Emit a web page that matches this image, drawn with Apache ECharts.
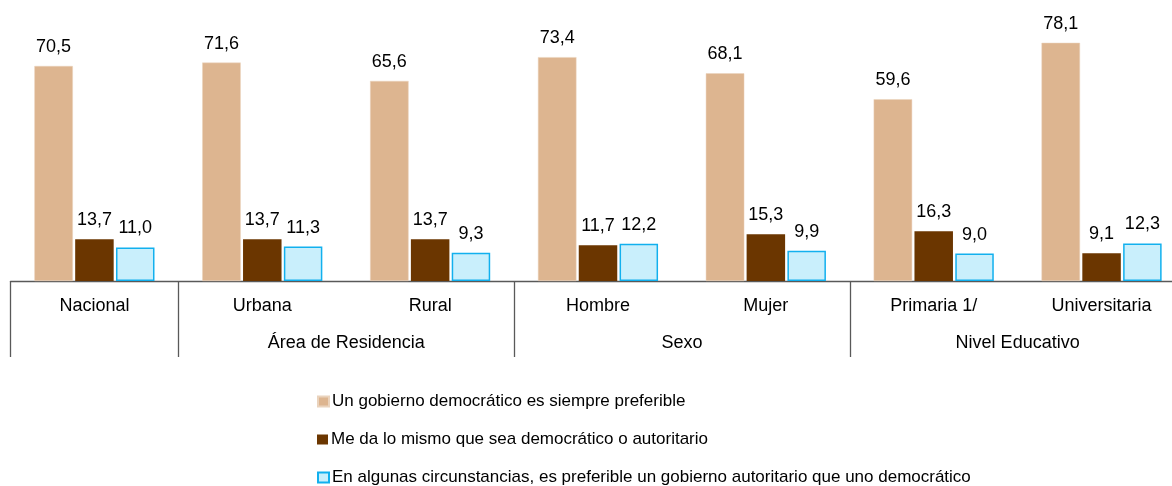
<!DOCTYPE html>
<html>
<head>
<meta charset="utf-8">
<script src="https://cdn.jsdelivr.net/npm/echarts@6/dist/echarts.min.js"></script>
<style>
html,body{margin:0;padding:0;background:#fff;}
#chart{width:1172px;height:486px;}
</style>
</head>
<body>
<div id="chart"></div>
<script>
const categories = ['Nacional', 'Urbana', 'Rural', 'Hombre', 'Mujer', 'Primaria 1/', 'Universitaria'];
const groups = [
  { name: '', from: 0, to: 0 },
  { name: 'Área de Residencia', from: 1, to: 2 },
  { name: 'Sexo', from: 3, to: 4 },
  { name: 'Nivel Educativo', from: 5, to: 6 }
];
const seriesNames = [
  'Un gobierno democrático es siempre preferible',
  'Me da lo mismo que sea democrático o autoritario',
  'En algunas circunstancias, es preferible un gobierno autoritario que uno democrático'
];
const siemprePreferible = [70.5, 71.6, 65.6, 73.4, 68.1, 59.6, 78.1];
const meDaLoMismo = [13.7, 13.7, 13.7, 11.7, 15.3, 16.3, 9.1];
const autoritario = [11.0, 11.3, 9.3, 12.2, 9.9, 9.0, 12.3];

const FONT = '"Liberation Sans", Arial, sans-serif';
const chart = echarts.init(document.getElementById('chart'));

const labelCfg = {
  show: true, position: 'top', distance: 10,
  fontFamily: FONT, fontSize: 18, color: '#000',
  formatter: p => p.value.toFixed(1).replace('.', ',')
};
const groupStart = new Set(groups.map(g => g.from));

const legends = seriesNames.map((n, i) => ({
  orient: 'vertical', left: 317, top: 393 + i * 38, padding: 0,
  itemWidth: 11, itemHeight: 10, itemGap: 0,
  icon: 'rect',
  textStyle: { fontFamily: FONT, fontSize: 17, color: '#000', padding: [0, 0, 0, -2] },
  data: [n]
}));

chart.setOption({
  animation: false,
  grid: { left: 10.5, width: 1175, top: 6.5, bottom: 205, containLabel: false, outerBoundsMode: 'none' },
  legend: legends,
  xAxis: {
    type: 'category', data: categories,
    axisLine: { show: true, lineStyle: { color: '#595959', width: 1.3 } },
    axisTick: {
      show: true, length: 76,
      interval: (i) => groupStart.has(i),
      lineStyle: { color: '#595959', width: 1.3 }
    },
    axisLabel: { fontFamily: FONT, fontSize: 18, color: '#000', margin: 16, interval: 0 }
  },
  yAxis: { type: 'value', min: 0, max: 90, show: false, splitLine: { show: false } },
  series: [
    { name: seriesNames[0], type: 'bar', data: siemprePreferible, barWidth: 38.5, barGap: '6%',
      itemStyle: { color: '#DDB590', borderColor: '#EAD3BD', borderWidth: 0.5 }, label: labelCfg },
    { name: seriesNames[1], type: 'bar', data: meDaLoMismo, barWidth: 38.5, barGap: '6%',
      itemStyle: { color: '#6B3600' }, label: labelCfg },
    { name: seriesNames[2], type: 'bar', data: autoritario, barWidth: 38.5, barGap: '6%',
      itemStyle: { color: '#C9EFFC', borderColor: '#12B0EE', borderWidth: 1.5 }, label: labelCfg }
  ]
});

// group labels placed from the category axis scale
const bottomY = chart.convertToPixel({ yAxisIndex: 0 }, 0);
const graphics = groups.filter(g => g.name).map(g => {
  const x1 = chart.convertToPixel({ xAxisIndex: 0 }, g.from);
  const x2 = chart.convertToPixel({ xAxisIndex: 0 }, g.to);
  return {
    type: 'text', x: (x1 + x2) / 2, y: bottomY + 62,
    style: { text: g.name, fontFamily: FONT, fontSize: 18, fill: '#000', align: 'center', verticalAlign: 'middle' }
  };
});
chart.setOption({ graphic: graphics });
</script>
</body>
</html>
